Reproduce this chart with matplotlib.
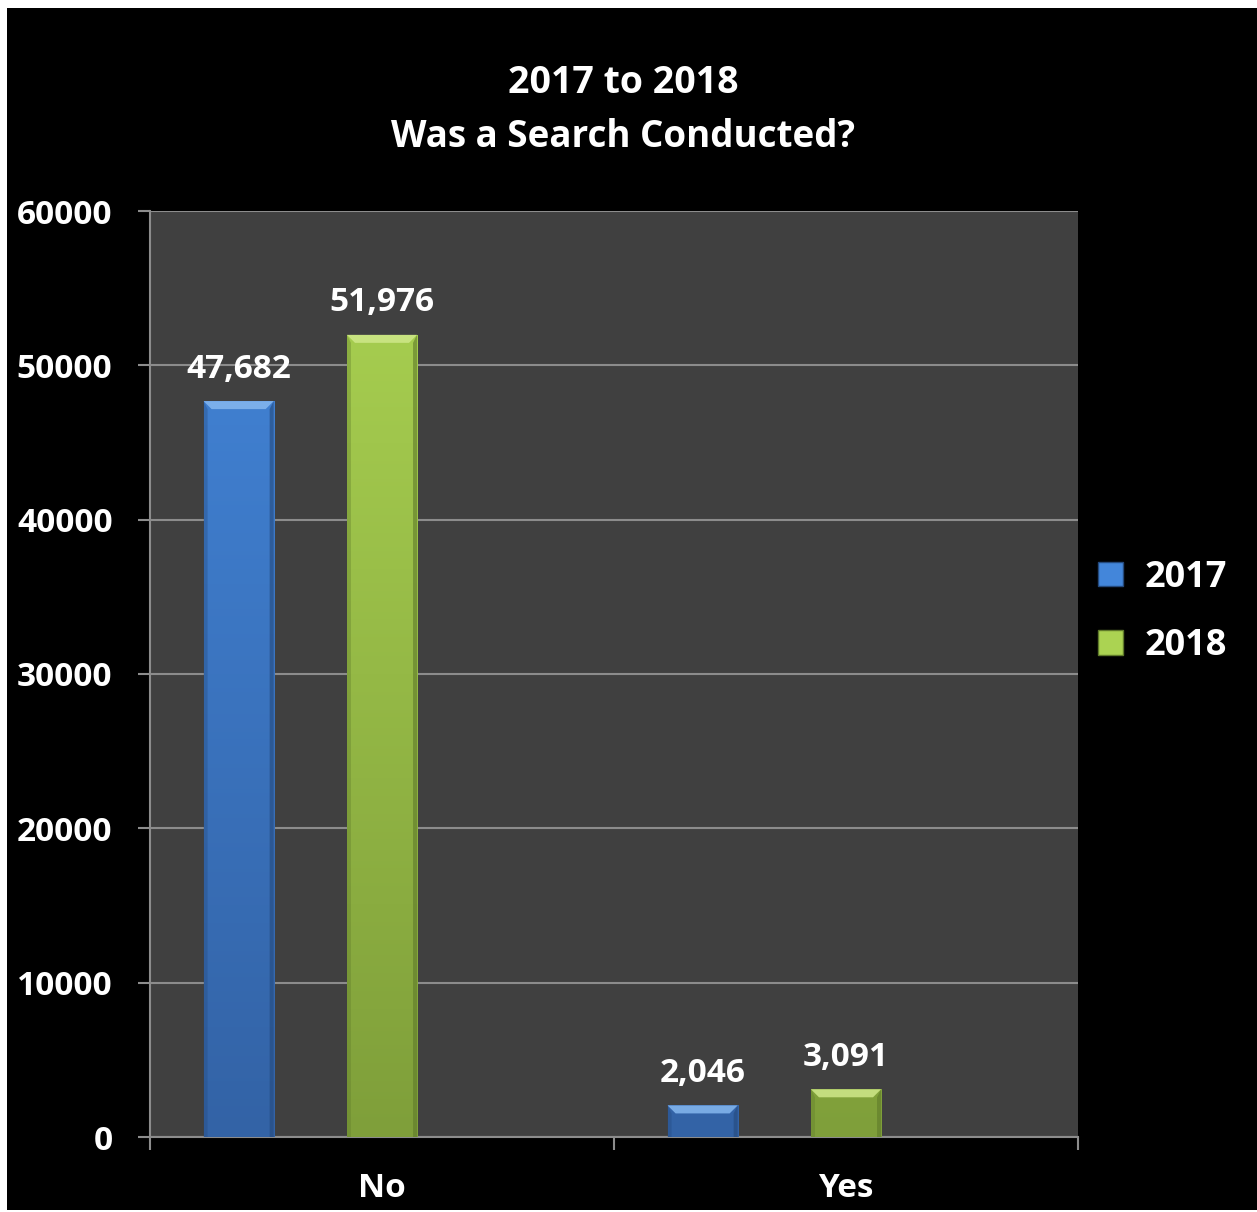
import matplotlib
matplotlib.use("Agg")
import matplotlib.pyplot as plt
import numpy as np
from matplotlib.patches import Rectangle, Polygon, Patch
from matplotlib.colors import LinearSegmentedColormap

FONT = "Open Sans"
plt.rcParams["font.family"] = FONT

categories = ["No", "Yes"]
years = ["2017", "2018"]
values_2017 = [47682, 2046]
values_2018 = [51976, 3091]
y_ticks = [0, 10000, 20000, 30000, 40000, 50000, 60000]

# colours per series: (top, bottom, bevel highlight, edge shade)
styles = {
    "2017": ("#4386da", "#3363a6", "#86b8f0", "#24497c"),
    "2018": ("#abd352", "#7f9f3a", "#cfe88a", "#5f7a2a"),
}

fig = plt.figure(figsize=(12.57, 12.12), dpi=100, facecolor="white")
# black slide background
fig.patches.append(Rectangle((7 / 1257, 2 / 1212), 1 - 7 / 1257, 1 - 10 / 1212,
                             transform=fig.transFigure, facecolor="black",
                             edgecolor="none", zorder=-10))

ax = fig.add_axes([150 / 1257, 1 - 1137 / 1212, 928 / 1257, 926 / 1212])
ax.set_facecolor("#404040")
ax.set_xlim(-0.5, 1.5)
ax.set_ylim(0, 60000)

x = np.arange(len(categories))
slot = 0.309
width = 0.151
offsets = [-slot, 0.0]

# bevel size in data units (about 8 px)
bev_x = 8 / 463
bev_y = 8 * 60000 / 926

def fancy_bars(xs, vals, key):
    top, bottom, hi, shade = styles[key]
    cmap = LinearSegmentedColormap.from_list(key, [bottom, top])
    bars = ax.bar(xs, vals, width, color=top, zorder=3, linewidth=0)
    grad = np.linspace(0, 1, 256).reshape(-1, 1)
    for b in bars:
        x0, y0 = b.get_x(), b.get_y()
        x1, y1 = x0 + b.get_width(), y0 + b.get_height()
        im = ax.imshow(grad, cmap=cmap, origin="lower", aspect="auto",
                       extent=[x0, x1, 0, 60000], zorder=3.1,
                       interpolation="bilinear")
        im.set_clip_path(b)
        bh = min(bev_y, (y1 - y0) / 2)
        # left / right shaded edges
        ax.add_patch(Polygon([(x0, y0), (x0, y1), (x0 + bev_x * 0.5, y1 - bh),
                              (x0 + bev_x * 0.5, y0)], closed=True,
                             facecolor=shade, alpha=0.35, lw=0, zorder=3.2))
        ax.add_patch(Polygon([(x1, y0), (x1, y1), (x1 - bev_x * 0.5, y1 - bh),
                              (x1 - bev_x * 0.5, y0)], closed=True,
                             facecolor=shade, alpha=0.6, lw=0, zorder=3.2))
        # top bevel
        ax.add_patch(Polygon([(x0, y1), (x1, y1), (x1 - bev_x, y1 - bh),
                              (x0 + bev_x, y1 - bh)], closed=True,
                             facecolor=hi, alpha=0.85, lw=0, zorder=3.3))
        ax.annotate(f"{int(round(b.get_height())):,}", ((x0 + x1) / 2, y1),
                    xytext=(0, 23), textcoords="offset points",
                    ha="center", va="center", color="white",
                    fontsize=24, fontweight="bold", family=FONT, zorder=5)
    return bars

fancy_bars(x + offsets[0], values_2017, "2017")
fancy_bars(x + offsets[1], values_2018, "2018")

# axes styling
ax.set_yticks(y_ticks)
ax.set_yticklabels([str(t) for t in y_ticks])
ax.yaxis.grid(True, color="#8c8c8c", linewidth=1.5, zorder=1)
ax.set_axisbelow(True)
ax.set_xticks(x)
ax.set_xticklabels(categories)
ax.set_xticks([-0.5, 0.5, 1.5], minor=True)
ax.tick_params(axis="x", which="major", length=0, pad=25, labelsize=24,
               labelcolor="white")
ax.tick_params(axis="x", which="minor", length=9, width=1.5, color="#8c8c8c")
ax.tick_params(axis="y", length=9, width=1.5, color="#8c8c8c", pad=18,
               labelsize=24, labelcolor="white")
for s in ["top", "right"]:
    ax.spines[s].set_visible(False)
for s in ["left", "bottom"]:
    ax.spines[s].set_color("#8c8c8c")
    ax.spines[s].set_linewidth(1.5)
for lab in ax.get_xticklabels() + ax.get_yticklabels():
    lab.set_fontweight("bold")
    lab.set_family(FONT)

fig.text(623 / 1257, 1 - 83 / 1212, "2017 to 2018", ha="center", va="center",
         color="white", fontsize=27, fontweight="bold", family=FONT)
fig.text(623 / 1257, 1 - 137 / 1212, "Was a Search Conducted?", ha="center",
         va="center", color="white", fontsize=26.5, fontweight="bold",
         family=FONT)

handles = [Patch(facecolor=styles[k][0], edgecolor=styles[k][3], linewidth=1)
           for k in years]
leg = fig.legend(handles, years, loc="center left",
                 bbox_to_anchor=(1098 / 1257, 1 - 612 / 1212), frameon=False,
                 prop={"family": FONT, "weight": "bold", "size": 26},
                 handlelength=0.68, handleheight=0.68,
                 handletextpad=0.6, labelspacing=0.9, borderpad=0,
                 borderaxespad=0)
for t in leg.get_texts():
    t.set_color("white")

fig.savefig("out.png", dpi=100, facecolor=fig.get_facecolor())
